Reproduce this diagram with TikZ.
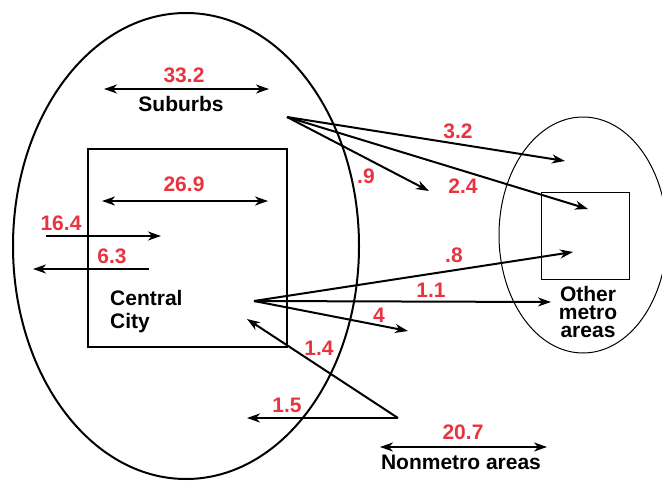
\documentclass[tikz,border=0pt]{standalone}
\usepackage{fontspec}
\setmainfont{Liberation Sans}
\usetikzlibrary{arrows.meta}
\definecolor{flowred}{RGB}{232,52,64}
\tikzset{
  flow/.style={line width=2pt, -{Stealth[length=13pt,width=9pt,inset=4pt]}},
  both/.style={line width=2pt, {Stealth[length=13pt,width=9pt,inset=4pt]}-{Stealth[length=13pt,width=9pt,inset=4pt]}},
  num/.style={text=flowred, font=\bfseries\fontsize{21}{24}\selectfont, inner sep=0pt, anchor=base},
  lbl/.style={text=black, font=\bfseries\fontsize{21}{24}\selectfont, inner sep=0pt, anchor=base},
  thick region/.style={line width=2pt},
  thin region/.style={line width=1pt},
}
\begin{document}
\begin{tikzpicture}[x=1pt,y=-1pt]
\useasboundingbox (0,0) rectangle (662,482);

% regions
\draw[thick region] (186,246) ellipse [x radius=173, y radius=233];
\draw[thick region] (88,149) rectangle (287,347);
\draw[thin region] (583,235) ellipse [x radius=84, y radius=118];
\draw[thin region] (541,192) rectangle (629,279);

% flow sources
\coordinate (sub) at (287,117);
\coordinate (cc) at (254,301);
\coordinate (nm) at (398,418);

% flow targets
\coordinate (t32) at (565,161);
\coordinate (t24) at (588,209);
\coordinate (t09) at (429,191);
\coordinate (t08) at (573,252);
\coordinate (t11) at (551,302);
\coordinate (t4) at (408,331);
\coordinate (t14) at (247,319);
\coordinate (t15) at (247,418);

% within-area movement
\coordinate (s1) at (104,89);  \coordinate (s2) at (269,89);
\coordinate (c1) at (102,201); \coordinate (c2) at (268,201);
\coordinate (n1) at (380,447); \coordinate (n2) at (547,447);
\draw[both] (s1) -- (s2);
\draw[both] (c1) -- (c2);
\draw[both] (n1) -- (n2);

% in and out of central city
\coordinate (in1) at (46,236);  \coordinate (in2) at (161,236);
\coordinate (out1) at (149,269); \coordinate (out2) at (33,269);
\draw[flow] (in1) -- (in2);
\draw[flow] (out1) -- (out2);

% flows
\draw[flow] (sub) -- (t32);
\draw[flow] (sub) -- (t24);
\draw[flow] (sub) -- (t09);
\draw[flow] (cc) -- (t08);
\draw[flow] (cc) -- (t11);
\draw[flow] (cc) -- (t4);
\draw[flow] (nm) -- (t14);
\draw[flow] (nm) -- (t15);

% labels (multi-line nodes sit on the baseline of their last line)
\node[lbl] (suburbs) at (181,111) {Suburbs};
\node[lbl, anchor=base west, align=left, font=\bfseries\fontsize{21}{23}\selectfont] (central) at (110,328) {Central\\City};
\node[lbl, align=center, font=\bfseries\fontsize{21}{18}\selectfont] (other) at (588,337) {Other\\metro\\areas};
\node[lbl] (nonmetro) at (461,469) {Nonmetro areas};

\node[num] (v332) at (184,82) {33.2};
\node[num] (v269) at (184,191) {26.9};
\node[num] (v164) at (61,230) {16.4};
\node[num] (v63) at (112,263) {6.3};
\node[num] (v32) at (458,138) {3.2};
\node[num] (v09) at (366,183) {.9};
\node[num] (v24) at (463,193) {2.4};
\node[num] (v08) at (454,262) {.8};
\node[num] (v11) at (431,297) {1.1};
\node[num] (v4) at (379,322) {4};
\node[num] (v14) at (319,355) {1.4};
\node[num] (v15) at (287,412) {1.5};
\node[num] (v207) at (463,439) {20.7};
\end{tikzpicture}
\end{document}
